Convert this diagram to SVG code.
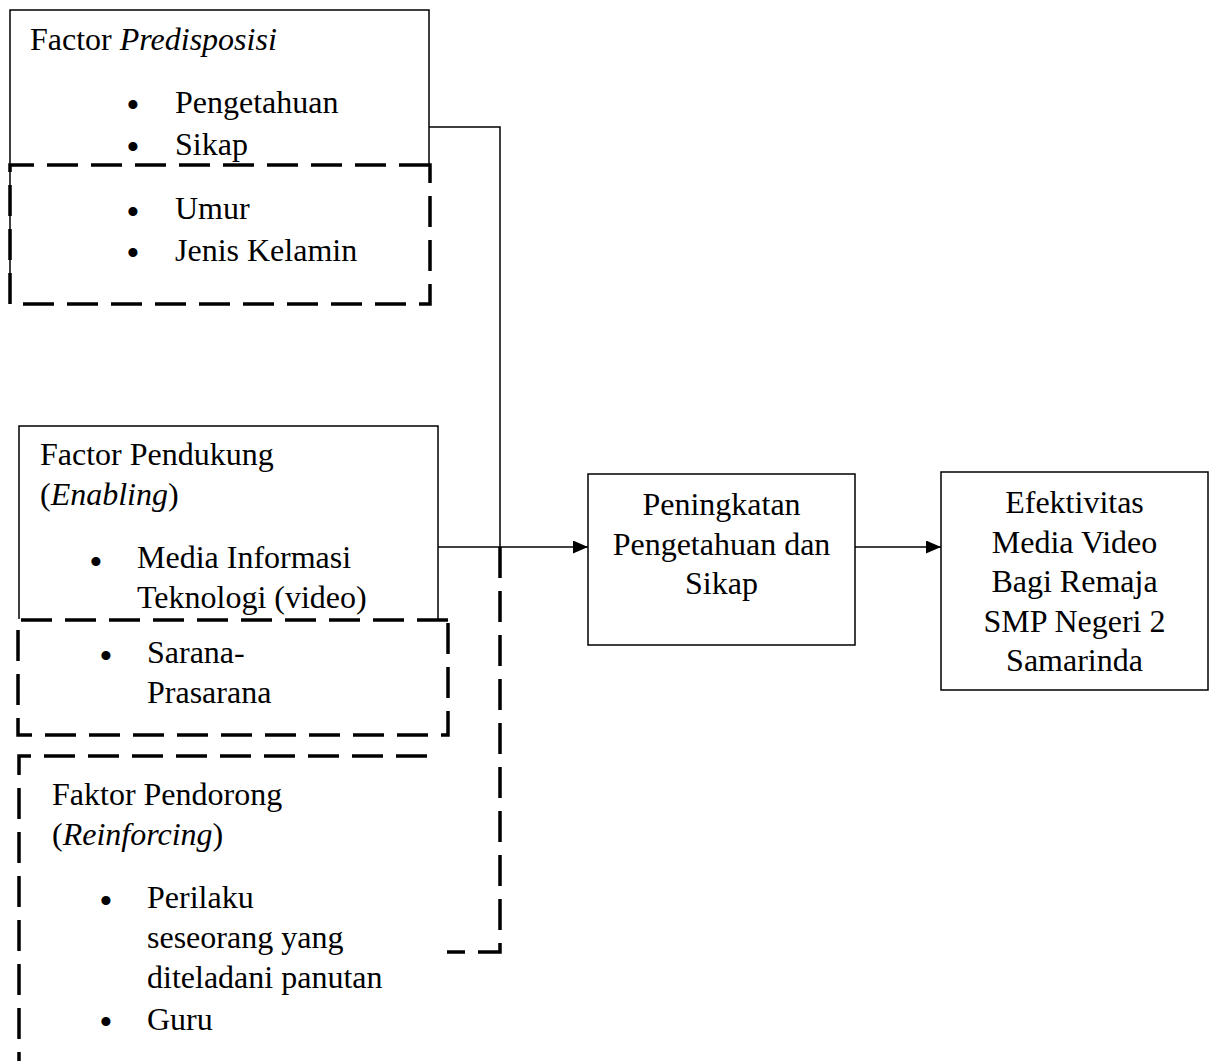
<svg xmlns="http://www.w3.org/2000/svg" width="1210" height="1061" viewBox="0 0 1210 1061">
<style>
text{font-family:"Liberation Serif","Times New Roman",serif;font-size:32px;fill:#000}
.c{text-anchor:middle}
.b{text-anchor:middle;font-size:38px}
.i{font-style:italic}
.solid{fill:none;stroke:#000;stroke-width:1.5}
.dash{fill:none;stroke:#000;stroke-width:3.5;stroke-dasharray:31 13}
.conn{fill:none;stroke:#000;stroke-width:1.5}
</style>
<defs>
<marker id="arr" markerWidth="15" markerHeight="13" refX="15" refY="6.5" orient="auto" markerUnits="userSpaceOnUse">
<path d="M0,0 L15,6.5 L0,13 Z" fill="#000"/>
</marker>
</defs>
<rect width="1210" height="1061" fill="#fff"/>

<g id="predisposisi">
<path class="solid" d="M10,277 V10 H429 V165"/>
<path class="dash" d="M430,165 H10 V304 H430 Z"/>
<text x="30" y="50">Factor <tspan class="i">Predisposisi</tspan></text>
<text class="b" x="133" y="117.5">•</text>
<text x="175" y="113">Pengetahuan</text>
<text class="b" x="133" y="159.5">•</text>
<text x="175" y="155">Sikap</text>
<text class="b" x="133" y="224.5">•</text>
<text x="175" y="219">Umur</text>
<text class="b" x="133" y="265.5">•</text>
<text x="175" y="261">Jenis Kelamin</text>
</g>

<g id="pendukung">
<path class="solid" d="M19,619 V426 H438 V619"/>
<path class="dash" d="M448,620 H18 V735 H448 Z"/>
<text x="40" y="465">Factor Pendukung</text>
<text x="40" y="505">(<tspan class="i">Enabling</tspan>)</text>
<text class="b" x="96" y="574.5">•</text>
<text x="137" y="568">Media Informasi</text>
<text x="137" y="608">Teknologi (video)</text>
<text class="b" x="106" y="668.5">•</text>
<text x="147" y="663">Sarana-</text>
<text x="147" y="703">Prasarana</text>
</g>

<g id="pendorong">
<path class="dash" d="M427,756 H19 V1061"/>
<text x="52" y="805">Faktor Pendorong</text>
<text x="52" y="845">(<tspan class="i">Reinforcing</tspan>)</text>
<text class="b" x="106" y="913.5">•</text>
<text x="147" y="908">Perilaku</text>
<text x="147" y="948">seseorang yang</text>
<text x="147" y="988">diteladani panutan</text>
<text class="b" x="106" y="1034.5">•</text>
<text x="147" y="1030">Guru</text>
</g>

<g id="peningkatan">
<rect class="solid" x="588" y="474" width="267" height="171"/>
<text class="c" x="721.5" y="515">Peningkatan</text>
<text class="c" x="721.5" y="555">Pengetahuan dan</text>
<text class="c" x="721.5" y="594">Sikap</text>
</g>

<g id="efektivitas">
<rect class="solid" x="941" y="472" width="267" height="218"/>
<text class="c" x="1074.5" y="513">Efektivitas</text>
<text class="c" x="1074.5" y="553">Media Video</text>
<text class="c" x="1074.5" y="592">Bagi Remaja</text>
<text class="c" x="1074.5" y="632">SMP Negeri 2</text>
<text class="c" x="1074.5" y="671">Samarinda</text>
</g>

<g id="connectors">
<path class="conn" d="M429,127 H500 V547"/>
<path class="conn" d="M438,547 H588" marker-end="url(#arr)"/>
<path class="conn" d="M855,547 H941" marker-end="url(#arr)"/>
<path class="dash" d="M500,547 V952 H447"/>
</g>
</svg>
